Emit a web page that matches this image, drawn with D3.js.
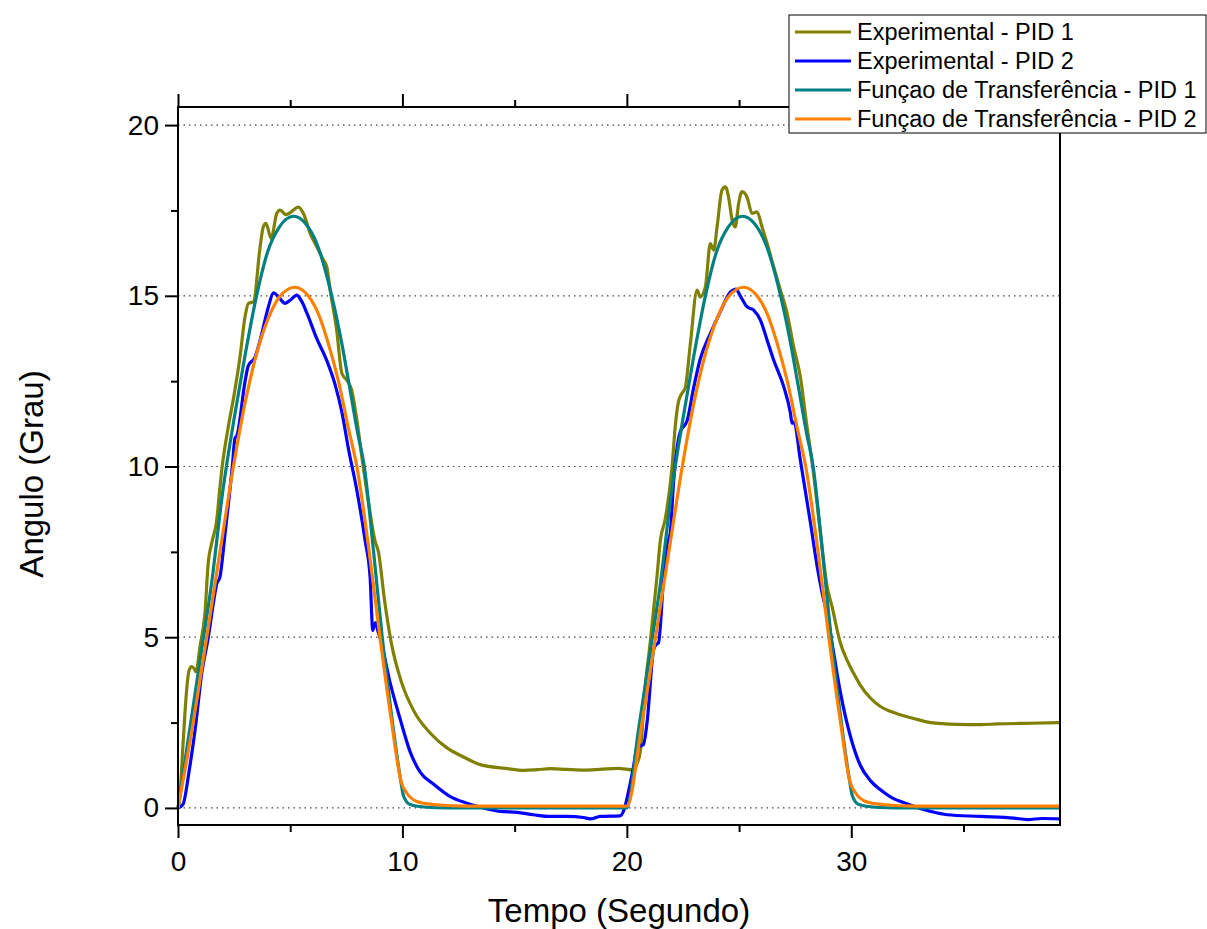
<!DOCTYPE html>
<html>
<head>
<meta charset="utf-8">
<script src="https://cdnjs.cloudflare.com/ajax/libs/d3/7.8.5/d3.min.js"></script>
<style>
  body { margin: 0; background: #fff; }
  svg text { font-family: "Liberation Sans", Arial, Helvetica, sans-serif; fill: #000; }
</style>
</head>
<body>
<div id="chart"></div>
<script>
// ---- data: [tempo (s), angulo (grau)] ----
var expPid1 = [[0,0],[0.09,0.38],[0.2,1.6],[0.31,2.78],[0.42,3.7],[0.5,4.04],[0.61,4.14],[0.72,4.08],[0.8,3.99],
  [0.98,4.72],[1.2,5.7],[1.35,7.2],[1.5,7.75],[1.72,8.4],[1.87,9.4],[1.95,9.9],[2.24,11.16],[2.5,12.1],[2.76,13.2],
  [2.99,14.4],[3.14,14.78],[3.36,14.82],[3.66,16.44],[3.8,17.02],[3.92,17.12],[4.15,16.68],[4.4,17.41],[4.55,17.51],
  [4.81,17.38],[5.14,17.51],[5.36,17.6],[5.59,17.41],[5.89,16.83],[6.18,16.44],[6.48,16.05],[6.63,15.85],[6.78,15.17],
  [7.07,14.0],[7.3,12.73],[7.52,12.53],[7.74,12.24],[7.97,11.36],[8.19,10.29],[8.5,8.9],[8.78,7.82],[8.93,7.5],
  [9.2,6.1],[9.5,4.85],[9.95,3.7],[10.5,2.85],[11.3,2.15],[12.0,1.75],[12.7,1.5],[13.5,1.26],[14.6,1.16],[15.4,1.1],
  [16.0,1.12],[16.6,1.15],[17.3,1.13],[18.1,1.11],[18.8,1.13],[19.6,1.16],[20.3,1.11],[20.45,1.3],[20.6,1.65],
  [20.82,3.56],[21.04,4.84],[21.34,6.76],[21.49,7.82],[21.71,8.46],[22.01,9.95],[22.16,11.2],[22.3,11.9],[22.45,12.14],
  [22.6,12.3],[22.83,13.6],[23.13,15.17],[23.27,14.97],[23.5,15.26],[23.72,16.53],[23.87,16.34],[24.02,17.02],
  [24.24,18.1],[24.39,18.19],[24.53,17.9],[24.69,17.22],[24.83,17.02],[24.98,17.7],[25.13,18.05],[25.35,17.9],
  [25.58,17.41],[25.8,17.46],[26.02,17.02],[26.25,16.53],[26.54,15.85],[26.84,15.17],[27.14,14.49],[27.43,13.51],
  [27.73,12.63],[28.0,11.3],[28.3,9.9],[28.6,8.2],[28.92,6.5],[29.14,5.9],[29.51,4.84],[29.81,4.33],[30.1,3.95],
  [30.4,3.6],[30.85,3.22],[31.3,2.97],[31.7,2.84],[32.04,2.76],[32.78,2.62],[33.53,2.5],[34.72,2.45],[35.76,2.44],
  [36.5,2.46],[37.98,2.48],[39.3,2.5]];

var expPid2 = [[0,0],[0.22,0.1],[0.5,1.1],[0.76,2.28],[1.06,3.95],[1.35,5.0],[1.6,6.1],[1.72,6.55],[1.87,6.77],
  [2.1,8.05],[2.42,10.0],[2.54,10.83],[2.62,10.9],[2.99,12.5],[3.13,12.95],[3.43,13.2],[3.66,13.7],[4.03,14.68],
  [4.25,15.09],[4.5,14.95],[4.77,14.78],[5.05,14.9],[5.29,15.02],[5.5,14.85],[5.74,14.5],[6.18,13.75],[6.63,13.1],
  [7.0,12.4],[7.3,11.6],[7.6,10.5],[7.97,9.3],[8.34,7.82],[8.56,6.76],[8.68,5.2],[8.74,5.35],[8.82,5.43],[8.9,5.2],
  [9.0,5.0],[9.45,3.67],[9.9,2.6],[10.34,1.65],[10.79,1.05],[11.38,0.7],[12.13,0.33],[12.87,0.14],[13.61,0.0],
  [14.36,-0.1],[15.1,-0.13],[15.84,-0.2],[16.58,-0.25],[17.33,-0.25],[18.07,-0.28],[18.37,-0.32],[18.81,-0.25],
  [19.7,-0.23],[19.9,0.0],[20.07,0.47],[20.3,1.22],[20.45,1.76],[20.6,1.82],[20.74,1.86],[20.9,2.5],[21.19,4.63],
  [21.3,4.78],[21.41,4.84],[21.64,6.76],[21.79,7.72],[21.93,8.03],[22.08,9.53],[22.38,11.02],[22.68,11.33],
  [22.97,12.29],[23.27,13.15],[23.72,13.89],[24.16,14.53],[24.61,15.11],[24.85,15.2],[25.05,15.0],[25.35,14.68],
  [25.65,14.58],[25.95,14.29],[26.25,13.7],[26.54,13.12],[26.99,12.34],[27.29,11.56],[27.36,11.27],[27.45,11.3],
  [27.73,10.19],[28.18,8.35],[28.5,7.0],[28.77,6.09],[28.92,5.69],[29.2,4.6],[29.51,3.4],[29.96,2.1],[30.4,1.25],
  [30.85,0.8],[31.3,0.53],[31.8,0.3],[32.49,0.12],[33.0,0.0],[33.53,-0.1],[34.27,-0.2],[35.76,-0.25],[37.25,-0.3],
  [37.85,-0.34],[38.5,-0.31],[39.3,-0.32]];

var tfPid1 = [[0,0],[0.5,2.2],[1.0,4.4],[1.5,6.6],[2.0,9.3],[2.5,11.4],[3.0,13.3],[3.5,15.0],[4.0,16.3],[4.5,17.0],
  [5.15,17.33],[5.7,17.1],[6.2,16.5],[6.85,15.0],[7.3,13.6],[7.6,12.5],[8.0,11.0],[8.3,10.0],[8.7,7.6],[9.1,5.0],
  [9.5,2.8],[9.9,0.9],[10.05,0.35],[10.34,0.1],[11.09,0.02],[12,0],[20,0],
  [20.5,2.2],[21.0,4.4],[21.5,6.6],[22.0,9.3],[22.5,11.4],[23.0,13.3],[23.5,15.0],[24.0,16.3],[24.5,17.0],
  [25.15,17.33],[25.7,17.1],[26.2,16.5],[26.85,15.0],[27.3,13.6],[27.6,12.5],[28.0,11.0],[28.3,10.0],[28.7,7.6],
  [29.1,5.0],[29.5,2.8],[29.9,0.9],[30.05,0.35],[30.34,0.1],[31.09,0.02],[32,0],[39.3,0]];

var tfPid2 = [[0,0],[0.68,2.5],[1.28,5.0],[1.87,7.5],[2.47,10.0],[3.0,11.9],[3.5,13.3],[4.0,14.3],[4.5,14.95],
  [5.2,15.25],[5.8,15.0],[6.3,14.4],[6.7,13.6],[7.15,12.5],[7.6,11.1],[7.97,10.0],[8.5,7.6],[9.0,5.0],[9.5,2.6],
  [9.95,0.75],[10.2,0.43],[10.64,0.19],[11.38,0.1],[12.87,0.05],[20.0,0.05],
  [20.68,2.5],[21.28,5.0],[21.87,7.5],[22.47,10.0],[23.0,11.9],[23.5,13.3],[24.0,14.3],[24.5,14.95],
  [25.2,15.25],[25.8,15.0],[26.3,14.4],[26.7,13.6],[27.15,12.5],[27.6,11.1],[27.97,10.0],[28.5,7.6],[29.0,5.0],
  [29.5,2.6],[29.95,0.75],[30.2,0.43],[30.64,0.19],[31.38,0.1],[32.87,0.05],[39.3,0.05]];

var seriesNames = ["Experimental - PID 1", "Experimental - PID 2",
                   "Funçao de Transferência - PID 1", "Funçao de Transferência - PID 2"];
var seriesColors = ["#808000", "#0000ff", "#008080", "#ff8000"];
var seriesData = [expPid1, expPid2, tfPid1, tfPid2];

var xMajor = [0, 10, 20, 30];
var xMinor = [5, 15, 25, 35];
var yMajor = [0, 5, 10, 15, 20];
var yMinor = [2.5, 7.5, 12.5, 17.5];

// ---- layout ----
var W = 1207, H = 929;
var margin = {top: 107, right: 147, bottom: 104, left: 178},
    width = W - margin.left - margin.right,
    height = H - margin.top - margin.bottom;

var svg = d3.select("#chart").append("svg")
    .attr("width", W)
    .attr("height", H)
    .attr("font-family", "'Liberation Sans', Arial, Helvetica, sans-serif");

var g = svg.append("g").attr("transform", "translate(" + margin.left + "," + margin.top + ")");

var x = d3.scaleLinear().domain([0, 39.3]).range([0, width]);
var y = d3.scaleLinear().domain([-0.5, 20.53]).range([height, 0]);

// dotted grid
g.append("g").selectAll("line")
  .data(yMajor)
  .enter().append("line")
    .attr("x1", 0).attr("x2", width)
    .attr("y1", function(d){ return y(d); })
    .attr("y2", function(d){ return y(d); })
    .attr("stroke", "#444")
    .attr("stroke-width", 1.2)
    .attr("stroke-dasharray", "1.5,4");

// lines
var line = d3.line()
    .x(function(d){ return x(d[0]); })
    .y(function(d){ return y(d[1]); })
    .curve(d3.curveMonotoneX);

g.append("g").selectAll("path")
  .data(seriesData)
  .enter().append("path")
    .attr("d", line)
    .attr("fill", "none")
    .attr("stroke", function(d, i){ return seriesColors[i]; })
    .attr("stroke-width", 3.2)
    .attr("stroke-linejoin", "round");

// axes (ticks point outwards)
function styleAxis(sel){
  sel.select(".domain").remove();
  sel.selectAll(".tick line").attr("stroke", "#000").attr("stroke-width", 2);
  sel.selectAll(".tick text").attr("font-family", null).style("font-size", "28px");
}

g.append("g")
    .attr("transform", "translate(0," + height + ")")
    .call(d3.axisBottom(x).tickValues(xMajor).tickSize(13).tickPadding(13).tickFormat(d3.format("d")))
    .call(styleAxis);
g.append("g")
    .attr("transform", "translate(0," + height + ")")
    .call(d3.axisBottom(x).tickValues(xMinor).tickSize(7).tickFormat(""))
    .call(styleAxis);
g.append("g")
    .call(d3.axisTop(x).tickValues(xMajor).tickSize(13).tickFormat(""))
    .call(styleAxis);
g.append("g")
    .call(d3.axisTop(x).tickValues(xMinor).tickSize(7).tickFormat(""))
    .call(styleAxis);
g.append("g")
    .call(d3.axisLeft(y).tickValues(yMajor).tickSize(13).tickPadding(6).tickFormat(d3.format("d")))
    .call(styleAxis);
g.append("g")
    .call(d3.axisLeft(y).tickValues(yMinor).tickSize(7).tickFormat(""))
    .call(styleAxis);

// frame
g.append("rect")
    .attr("width", width).attr("height", height)
    .attr("fill", "none")
    .attr("stroke", "#000")
    .attr("stroke-width", 2);

// axis titles
svg.append("text")
    .attr("x", margin.left + width / 2)
    .attr("y", 922)
    .attr("text-anchor", "middle")
    .style("font-size", "33px")
    .text("Tempo (Segundo)");

svg.append("text")
    .attr("transform", "translate(43," + (margin.top + height / 2 + 8) + ") rotate(-90)")
    .attr("text-anchor", "middle")
    .style("font-size", "33px")
    .text("Angulo (Grau)");

// legend
var legend = svg.append("g").attr("transform", "translate(789,15)");
legend.append("rect")
    .attr("width", 417).attr("height", 118)
    .attr("fill", "#fff")
    .attr("stroke", "#000")
    .attr("stroke-width", 1);

var item = legend.selectAll(".item")
  .data(seriesNames)
  .enter().append("g")
    .attr("class", "item")
    .attr("transform", function(d, i){ return "translate(0," + (17 + i * 29) + ")"; });

item.append("line")
    .attr("x1", 6).attr("x2", 62)
    .attr("stroke", function(d, i){ return seriesColors[i]; })
    .attr("stroke-width", 3.2);

item.append("text")
    .attr("x", 68)
    .attr("dy", "0.35em")
    .style("font-size", "23.5px")
    .text(function(d){ return d; });
</script>
</body>
</html>
